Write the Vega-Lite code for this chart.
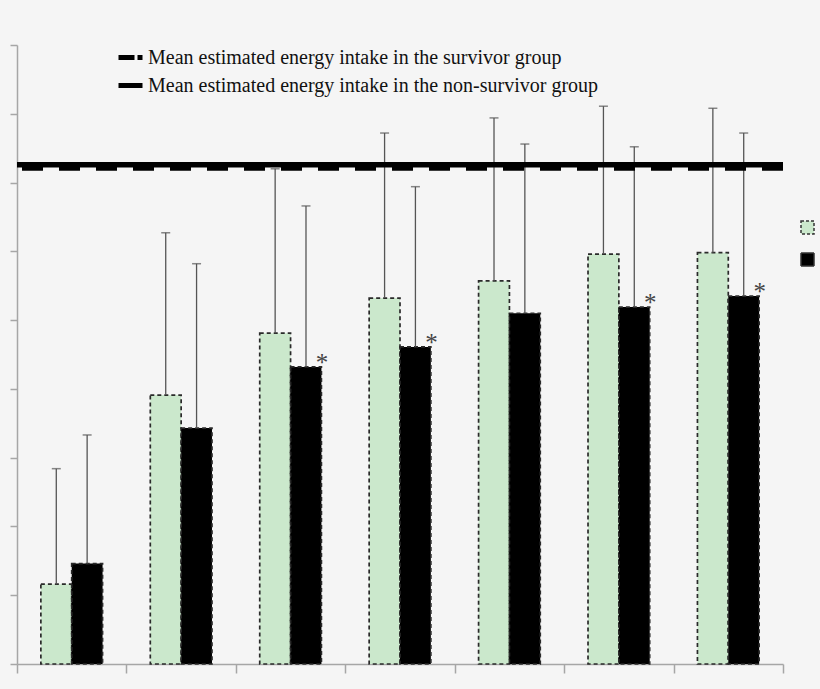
{
  "$schema": "https://vega.github.io/schema/vega-lite/v6.json",
  "width": 766,
  "height": 619,
  "autosize": {"type": "none"},
  "padding": {"left": 17, "top": 45, "right": 37, "bottom": 25},
  "background": "#f5f5f5",
  "config": {"view": {"stroke": null}, "legend": {"padding": 0, "titlePadding": 0}},
  "datasets": {
    "bars": [
      {"group": "Day 1", "series": "Survivors", "value": 5.8, "upper": 14.2, "sig": 0},
      {"group": "Day 1", "series": "Non-survivors", "value": 7.3, "upper": 16.65, "sig": 0},
      {"group": "Day 2", "series": "Survivors", "value": 19.55, "upper": 31.35, "sig": 0},
      {"group": "Day 2", "series": "Non-survivors", "value": 17.15, "upper": 29.1, "sig": 0},
      {"group": "Day 3", "series": "Survivors", "value": 24.05, "upper": 36.0, "sig": 0},
      {"group": "Day 3", "series": "Non-survivors", "value": 21.6, "upper": 33.3, "sig": 1},
      {"group": "Day 4", "series": "Survivors", "value": 26.6, "upper": 38.6, "sig": 0},
      {"group": "Day 4", "series": "Non-survivors", "value": 23.05, "upper": 34.7, "sig": 1},
      {"group": "Day 5", "series": "Survivors", "value": 27.85, "upper": 39.7, "sig": 0},
      {"group": "Day 5", "series": "Non-survivors", "value": 25.5, "upper": 37.8, "sig": 0},
      {"group": "Day 6", "series": "Survivors", "value": 29.8, "upper": 40.55, "sig": 0},
      {"group": "Day 6", "series": "Non-survivors", "value": 25.95, "upper": 37.6, "sig": 1},
      {"group": "Day 7", "series": "Survivors", "value": 29.9, "upper": 40.4, "sig": 0},
      {"group": "Day 7", "series": "Non-survivors", "value": 26.75, "upper": 38.6, "sig": 1}
    ],
    "means": [
      {"series": "Mean estimated energy intake in the survivor group", "value": 36.05},
      {"series": "Mean estimated energy intake in the non-survivor group", "value": 36.3}
    ]
  },
  "layer": [
    {
      "data": {"name": "bars"},
      "mark": {"type": "bar", "stroke": "#2a2a2a", "strokeDash": [4, 3], "strokeWidth": 1.7},
      "encoding": {
        "x": {
          "field": "group", "type": "nominal", "sort": null,
          "scale": {"paddingInner": 0, "paddingOuter": 0},
          "axis": {"labels": false, "title": null, "tickBand": "extent", "tickSize": 9,
                   "domainColor": "#a6a6a6", "tickColor": "#a6a6a6", "domainWidth": 1.5, "tickWidth": 1.5}
        },
        "xOffset": {
          "field": "series", "type": "nominal",
          "scale": {"domain": ["Survivors", "Non-survivors"], "paddingInner": 0, "paddingOuter": 0.774}
        },
        "y": {
          "field": "value", "type": "quantitative",
          "scale": {"domain": [0, 45], "nice": false},
          "axis": {"labels": false, "title": null, "grid": false, "values": [0, 5, 10, 15, 20, 25, 30, 35, 40, 45],
                   "tickSize": 7, "domainColor": "#a6a6a6", "tickColor": "#a6a6a6", "domainWidth": 1.5, "tickWidth": 1.5}
        },
        "fill": {
          "field": "series", "type": "nominal",
          "scale": {"domain": ["Survivors", "Non-survivors"], "range": ["#cbe8cc", "#000000"]},
          "legend": {"orient": "none", "legendX": 780, "legendY": 172, "title": null,
                     "symbolType": "square", "symbolSize": 169, "symbolStrokeColor": "#333333",
                     "symbolDash": [3, 2], "symbolStrokeWidth": 1.5, "symbolOpacity": 1,
                     "labelExpr": "''", "labelFontSize": 21, "labelOffset": 14,
                     "rowPadding": 10, "labelLimit": 0,
                     "encode": {
                       "symbols": {
                         "update": {
                           "strokeDash": [
                             {"test": "datum.value === 'Survivors'", "value": [3, 2]},
                             {"value": [1, 0]}
                           ]
                         }
                       }
                     }}
        }
      }
    },
    {
      "data": {"name": "bars"},
      "mark": {"type": "rule", "color": "#555555", "strokeWidth": 1.3},
      "encoding": {
        "x": {"field": "group", "type": "nominal", "sort": null},
        "xOffset": {"field": "series", "type": "nominal", "scale": {"domain": ["Survivors", "Non-survivors"]}},
        "y": {"field": "value", "type": "quantitative"},
        "y2": {"field": "upper"}
      }
    },
    {
      "data": {"name": "bars"},
      "mark": {"type": "tick", "color": "#555555", "size": 9, "thickness": 1.5},
      "encoding": {
        "x": {"field": "group", "type": "nominal", "sort": null},
        "xOffset": {"field": "series", "type": "nominal", "scale": {"domain": ["Survivors", "Non-survivors"]}},
        "y": {"field": "upper", "type": "quantitative"}
      }
    },
    {
      "data": {"name": "bars"},
      "transform": [{"filter": "datum.sig == 1"}],
      "mark": {"type": "text", "text": "*", "font": "Liberation Serif", "fontSize": 25,
               "color": "#444444", "align": "center", "baseline": "alphabetic", "dx": 16, "dy": 4},
      "encoding": {
        "x": {"field": "group", "type": "nominal", "sort": null},
        "xOffset": {"field": "series", "type": "nominal", "scale": {"domain": ["Survivors", "Non-survivors"]}},
        "y": {"field": "value", "type": "quantitative"}
      }
    },
    {
      "layer": [
        {
          "data": {"name": "means"},
          "mark": {"type": "rule", "color": "#000000", "strokeWidth": 5.5},
          "encoding": {
            "y": {"field": "value", "type": "quantitative"},
            "strokeDash": {
              "field": "series", "type": "nominal",
              "scale": {
                "domain": ["Mean estimated energy intake in the survivor group", "Mean estimated energy intake in the non-survivor group"],
                "range": [[21, 16], [1, 0]]
              },
              "legend": null
            }
          }
        },
        {
          "data": {"name": "means"},
          "transform": [{"filter": "false"}],
          "mark": {"type": "rule", "color": "#000000", "strokeWidth": 5},
          "encoding": {
            "y": {"field": "value", "type": "quantitative"},
            "strokeDash": {
              "field": "series", "type": "nominal",
              "scale": {
                "domain": ["Mean estimated energy intake in the survivor group", "Mean estimated energy intake in the non-survivor group"],
                "range": [[16, 3], [1, 0]]
              },
              "legend": {
                "orient": "none", "legendX": 99, "legendY": -2, "title": null,
                "symbolType": "stroke", "symbolSize": 576, "symbolStrokeWidth": 5, "symbolStrokeColor": "#000000",
                "labelFont": "Liberation Serif", "labelFontSize": 20, "labelColor": "#111111",
                "labelOffset": 3, "rowPadding": 3, "labelLimit": 0
              }
            }
          }
        }
      ],
      "resolve": {"scale": {"strokeDash": "independent"}, "legend": {"strokeDash": "independent"}}
    }
  ]
}
